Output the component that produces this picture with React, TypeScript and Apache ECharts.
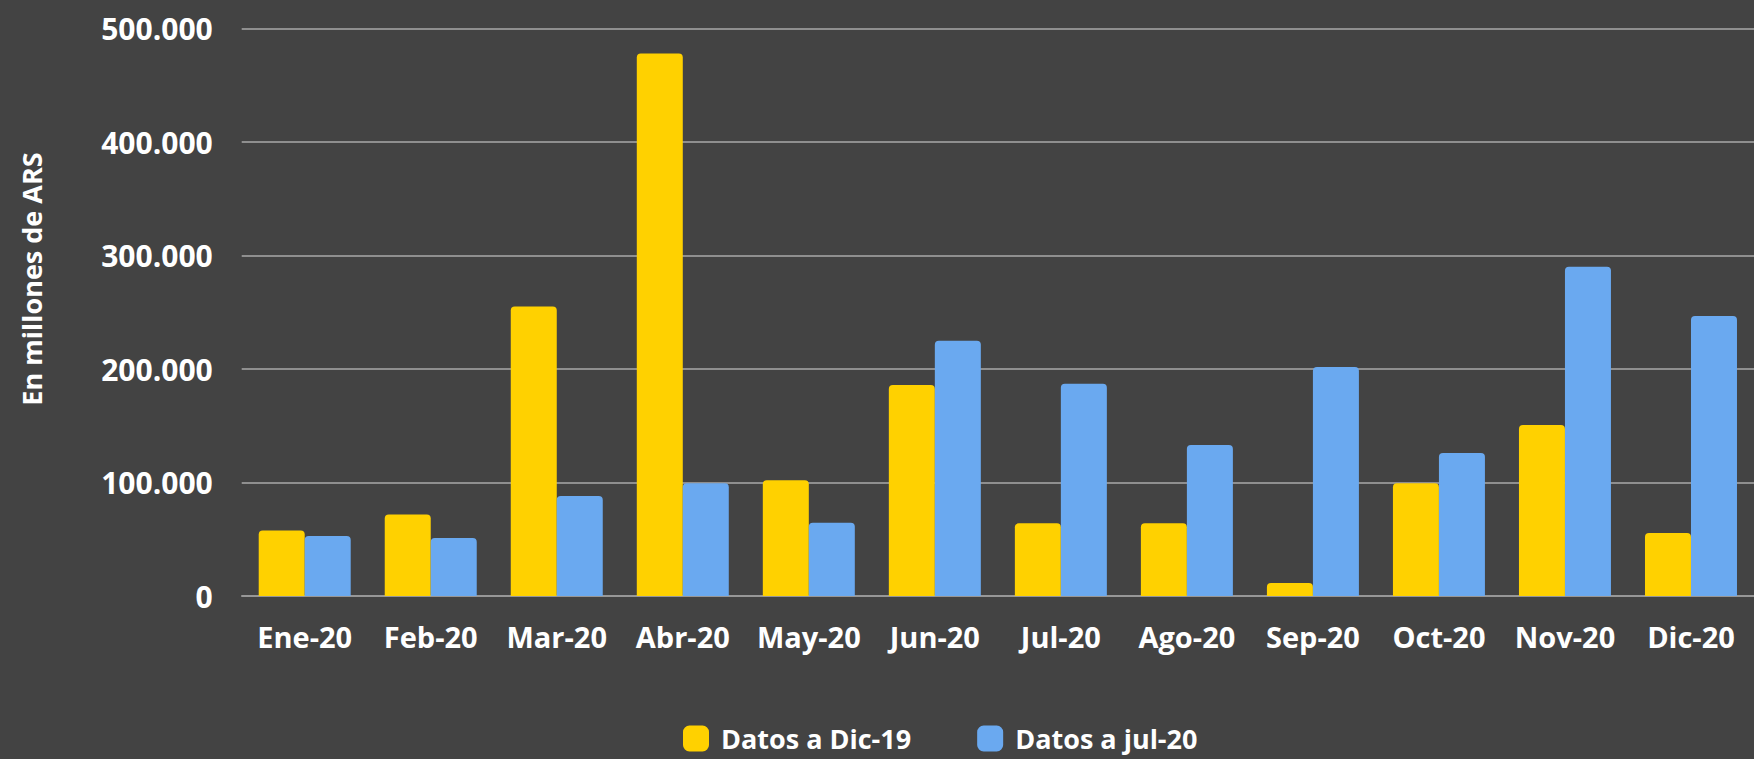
import React, { useEffect, useRef } from "react";
import * as echarts from "echarts";

const categories = ["Ene-20", "Feb-20", "Mar-20", "Abr-20", "May-20", "Jun-20", "Jul-20", "Ago-20", "Sep-20", "Oct-20", "Nov-20", "Dic-20"];
const datosDic19 = [57600, 71700, 255000, 478000, 102000, 186000, 64000, 64000, 11500, 99400, 150700, 55500];
const datosJul20 = [52900, 51100, 88200, 99400, 64500, 225000, 187000, 133000, 201700, 126000, 290000, 246700];
const seriesNames = ["Datos a Dic-19", "Datos a jul-20"];
const yAxisTitle = "En millones de ARS";

const FONT = "'Open Sans', 'Noto Sans', sans-serif";

function fmt(v: number): string {
  return String(Math.round(v)).replace(/\B(?=(\d{3})+(?!\d))/g, ".");
}

export default function App() {
  const ref = useRef<HTMLDivElement>(null);
  useEffect(() => {
    document.body.style.margin = "0";
    document.body.style.background = "#434343";
    const chart = echarts.init(ref.current!, null, { renderer: "svg" });
    chart.setOption({
      animation: false,
      backgroundColor: "#434343",
      grid: { left: 241.7, right: -7.3, top: 28.5, bottom: 163, containLabel: false },
      legend: {
        left: 683,
        top: 725,
        padding: 0,
        itemWidth: 26,
        itemHeight: 26,
        itemGap: 66,
        icon: "roundRect",
        textStyle: {
          color: "#ffffff",
          fontFamily: FONT,
          fontWeight: "bold",
          fontSize: 27,
          lineHeight: 26,
          padding: [0, 0, 0, 7],
        },
        data: seriesNames,
      },
      graphic: [
        {
          type: "text",
          x: 31,
          y: 279,
          rotation: Math.PI / 2,
          style: {
            text: yAxisTitle,
            fill: "#ffffff",
            font: `bold 27px ${FONT}`,
            textAlign: "center",
            textVerticalAlign: "middle",
          },
        },
      ],
      xAxis: {
        type: "category",
        data: categories,
        axisTick: { show: false },
        axisLine: { lineStyle: { color: "#9a9a9a", width: 1.5 } },
        axisLabel: {
          color: "#ffffff",
          fontFamily: FONT,
          fontWeight: "bold",
          fontSize: 29,
          margin: 26,
          interval: 0,
        },
      },
      yAxis: {
        type: "value",
        min: 0,
        max: 500000,
        interval: 100000,
        axisLine: { show: false },
        axisTick: { show: false },
        splitLine: { lineStyle: { color: "#a8a8a8", width: 1.5 } },
        axisLabel: {
          color: "#ffffff",
          fontFamily: FONT,
          fontWeight: "bold",
          fontSize: 30,
          margin: 29,
          formatter: (v: number) => fmt(v),
        },
      },
      series: [
        {
          name: seriesNames[0],
          type: "bar",
          data: datosDic19,
          barGap: "0%",
          barCategoryGap: "27%",
          itemStyle: { color: "#FFD100", borderRadius: [4, 4, 0, 0] },
        },
        {
          name: seriesNames[1],
          type: "bar",
          data: datosJul20,
          barGap: "0%",
          barCategoryGap: "27%",
          itemStyle: { color: "#6AA9F0", borderRadius: [4, 4, 0, 0] },
        },
      ],
    });
    return () => chart.dispose();
  }, []);
  return <div ref={ref} style={{ width: 1754, height: 759 }} />;
}
